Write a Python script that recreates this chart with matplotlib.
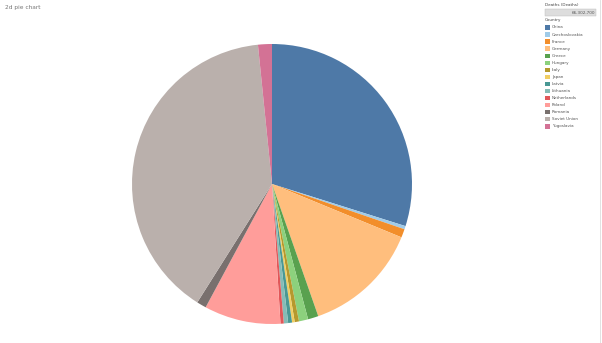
import matplotlib
matplotlib.use("Agg")
import matplotlib.pyplot as plt
from matplotlib.patches import Rectangle

countries = ["China", "Czechoslovakia", "France", "Germany", "Greece", "Hungary",
             "Italy", "Japan", "Latvia", "Lithuania", "Netherlands", "Poland",
             "Romania", "Soviet Union", "Yugoslavia"]
deaths = [19800000, 250000, 650000, 8900000, 800000, 700000,
          330000, 200000, 300000, 330000, 250000, 5850000,
          730000, 26150000, 1062700]
colors = ["#4E79A7", "#A0CBE8", "#F28E2B", "#FFBE7D", "#59A14F", "#8CD17D",
          "#B6992D", "#F1CE63", "#499894", "#86BCB6", "#E15759", "#FF9D9A",
          "#79706E", "#BAB0AC", "#D37295"]
total_label = "66,302,700"

W, H = 602, 343
fig = plt.figure(figsize=(W / 100, H / 100), dpi=100)
fig.patch.set_facecolor("white")

# pie area: centre (272,184), radius 140 px
ax = fig.add_axes([132 / W, (H - 324) / H, 280 / W, 280 / H])
ax.pie(deaths, colors=colors, startangle=90, counterclock=False,
       radius=1, wedgeprops=dict(linewidth=0))
ax.set_xlim(-1, 1)
ax.set_ylim(-1, 1)
ax.set_aspect("auto")
ax.axis("off")

fig.text(5 / W, 1 - 8 / H, "2d pie chart", fontsize=4.2, color="#777777",
         va="center", ha="left")

# legend panel
lx = 545
fig.text(lx / W, 1 - 5 / H, "Deaths (Deaths)", fontsize=3, color="#444444",
         va="center", ha="left")
fig.patches.append(Rectangle((lx / W, 1 - 15.5 / H), 51 / W, 6 / H,
                             transform=fig.transFigure, facecolor="#dddddd",
                             edgecolor="#bbbbbb", linewidth=0.3))
fig.text(595 / W, 1 - 12.5 / H, total_label, fontsize=3, color="#555555",
         va="center", ha="right")
fig.text(lx / W, 1 - 20.5 / H, "Country", fontsize=3, color="#444444",
         va="center", ha="left")
for i, (name, c) in enumerate(zip(countries, colors)):
    y = 27.5 + i * 7.05
    fig.patches.append(Rectangle((lx / W, 1 - (y + 2.3) / H), 4.5 / W, 4.5 / H,
                                 transform=fig.transFigure, facecolor=c,
                                 edgecolor="none"))
    fig.text(552 / W, 1 - y / H, name, fontsize=3, color="#555555",
             va="center", ha="left")

fig.add_artist(plt.Line2D([600 / W, 600 / W], [0, 1], color="#dddddd",
                          linewidth=0.6, transform=fig.transFigure))

fig.savefig("out.png", dpi=100, facecolor="white")
